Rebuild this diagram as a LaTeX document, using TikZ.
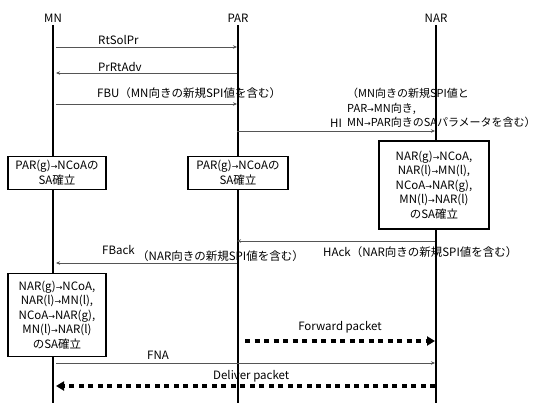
\documentclass[tikz,border=0pt]{standalone}
\usepackage{fontspec}
\setmainfont{Noto Sans CJK JP}
\newfontfamily\arrowfont{DejaVu Sans}
\usetikzlibrary{positioning,arrows.meta}
\definecolor{msggray}{HTML}{555555}
\newcommand{\toarr}{{\arrowfont\fontsize{8}{8}\selectfont →}}

\begin{document}
\begin{tikzpicture}[x=1pt,y=-1pt,
  every node/.style={font=\fontsize{11.5}{14.5}\selectfont, inner sep=0pt},
  life/.style={line width=1.9pt},
  msg/.style={-{Stealth[length=4pt,width=3.5pt]}, msggray, line width=0.9pt},
  pkt/.style={-{Triangle[length=8pt,width=9pt]}, line width=3.5pt, dash pattern=on 5pt off 4.5pt},
  sabox/.style={draw, line width=1.7pt, fill=white, align=center}]
  \useasboundingbox (0,0) rectangle (543,403);
  % lifelines
  \foreach \id/\txt/\x in {mn/MN/53, par/PAR/238, nar/NAR/436} {
    \node (\id) at (\x,18) {\txt};
    \coordinate (\id-top) at (\x,25);
    \coordinate (\id-bot) at (\x,403);
    \draw[life] (\id-top) -- (\id-bot);
  }
  % message rows
  \foreach \row/\y in {rts/47, prr/73, fbu/104, hi/131, hack/241, fback/263, fwd/341, fna/363, dlv/386} {
    \coordinate (mn-\row) at (56,\y);
    \coordinate (par-\row) at (237,\y);
    \coordinate (nar-\row) at (435,\y);
  }
  \draw[msg] (mn-rts) -- (par-rts);
  \node[anchor=west] (rts-lbl) at (98,40) {RtSolPr};
  \draw[msg] (par-prr) -- (mn-prr);
  \node[anchor=west] (prr-lbl) at (98,67) {PrRtAdv};
  \draw[msg] (mn-fbu) -- (par-fbu);
  \node[anchor=west] (fbu-lbl) at (97,93) {FBU（MN向きの新規SPI値を含む）};
  \draw[msg] (par-hi) -- (nar-hi);
  \node[anchor=west] (hi-lbl) at (330,123) {HI};
  \node[anchor=west, align=left, font=\fontsize{11}{14.5}\selectfont] (hi-txt) at (347,108)
    {（MN向きの新規SPI値と\\PAR\toarr MN向き,\\MN\toarr PAR向きのSAパラメータを含む）};
  % SA boxes
  \node[sabox, minimum width=98pt, minimum height=33pt] (sa-mn1) at (57,173)
    {PAR(g)\toarr NCoAの\\SA確立};
  \node[sabox, minimum width=100pt, minimum height=33pt] (sa-par) at (238,173)
    {PAR(g)\toarr NCoAの\\SA確立};
  \node[sabox, minimum width=110pt, minimum height=88pt] (sa-nar) at (434,185)
    {NAR(g)\toarr NCoA,\\NAR(l)\toarr MN(l),\\NCoA\toarr NAR(g),\\MN(l)\toarr NAR(l)\\のSA確立};
  % acks
  \draw[msg] (nar-hack) -- (par-hack);
  \node[anchor=west] (hack-lbl) at (323,252) {HAck（NAR向きの新規SPI値を含む）};
  \draw[msg] (par-fback) -- (mn-fback);
  \node[anchor=west] (fback-lbl) at (102,250) {FBack};
  \node[anchor=west] (fback-txt) at (137,256) {（NAR向きの新規SPI値を含む）};
  \node[sabox, minimum width=98pt, minimum height=83pt] (sa-mn2) at (57,315)
    {NAR(g)\toarr NCoA,\\NAR(l)\toarr MN(l),\\NCoA\toarr NAR(g),\\MN(l)\toarr NAR(l)\\のSA確立};
  % packets
  \draw[pkt] ([xshift=8pt]par-fwd) -- (nar-fwd);
  \node (fwd-lbl) at (340,327) {Forward packet};
  \draw[msg] (mn-fna) -- (nar-fna);
  \node (fna-lbl) at (158,355) {FNA};
  \draw[pkt] (nar-dlv) -- (mn-dlv);
  \node[anchor=west] (dlv-lbl) at (213,376) {Deliver packet};
\end{tikzpicture}
\end{document}
